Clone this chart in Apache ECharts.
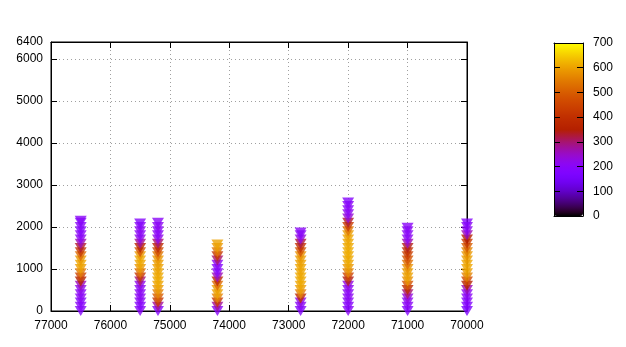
<!DOCTYPE html>
<html>
<head>
<meta charset="utf-8">
<script src="https://cdn.jsdelivr.net/npm/echarts@6/dist/echarts.min.js"></script>
<style>
  html, body { margin: 0; padding: 0; background: #fff; }
  #chart { width: 626px; height: 347px; }
</style>
</head>
<body>
<div id="chart"></div>
<script>
// x position of each column of points
const columnX = [76500, 75500, 75200, 74200, 72800, 72000, 71000, 70000];

// y values of the points in each column
const columnY = [
  [0,100,200,300,400,500,600,700,800,900,1000,1100,1200,1300,1400,1500,1600,1700,1800,1900,2000,2100,2150],
  [0,100,200,300,400,500,600,700,800,900,1000,1100,1200,1300,1400,1500,1600,1700,1800,1900,2000,2080],
  [0,100,200,300,400,500,600,700,800,900,1000,1100,1200,1300,1400,1500,1600,1700,1800,1900,2000,2100],
  [0,100,200,300,400,500,600,700,800,900,1000,1100,1200,1300,1400,1500,1580],
  [0,100,200,300,400,500,600,700,800,900,1000,1100,1200,1300,1400,1500,1600,1700,1800,1870],
  [0,100,200,300,400,500,600,700,800,900,1000,1100,1200,1300,1400,1500,1600,1700,1800,1900,2000,2100,2200,2300,2400,2500,2580],
  [0,100,200,300,400,500,600,700,800,900,1000,1100,1200,1300,1400,1500,1600,1700,1800,1900,1980],
  [0,100,200,300,400,500,600,700,800,900,1000,1100,1200,1300,1400,1500,1600,1700,1800,1900,2000,2080]
];

// colour value of each point (matches columnY)
const columnC = [
  [190,200,190,210,200,220,260,350,450,550,595,605,590,520,420,330,260,210,200,190,200,190,200],
  [200,190,200,210,200,210,220,300,420,540,590,605,610,590,480,360,280,220,200,210,200,190],
  [190,280,420,500,560,590,605,610,610,605,600,595,590,540,460,380,300,220,200,200,210,200],
  [200,280,420,560,600,595,520,380,260,200,190,210,300,420,540,590,600],
  [190,200,230,380,560,595,605,610,610,605,605,600,595,580,480,400,320,230,200,200],
  [200,190,200,210,200,210,230,340,450,560,590,605,610,610,615,610,610,605,595,540,430,330,240,210,200,200,190],
  [190,200,210,230,300,380,480,580,600,595,580,530,480,440,400,340,260,210,200,200,200],
  [170,180,190,200,210,260,360,460,560,595,605,605,595,590,560,500,430,350,260,210,200,190]
];

const xTicks = [70000, 71000, 72000, 73000, 74000, 75000, 76000, 77000];
const yTicks = [0, 1000, 2000, 3000, 4000, 5000, 6000, 6400];
const cbTicks = [0, 100, 200, 300, 400, 500, 600, 700];

let points = [];
columnX.forEach((x, i) => {
  columnY[i].forEach((y, j) => {
    points.push([x, y, columnC[i][j]]);
  });
});

// gnuplot default palette (rgbformulae 7,5,15)
let palette = [];
for (let k = 0; k <= 40; k++) {
  let t = k / 40;
  let r = Math.round(255 * Math.sqrt(t));
  let g = Math.round(255 * t * t * t);
  let b = Math.round(255 * Math.max(0, Math.sin(2 * Math.PI * t)));
  palette.push("rgb(" + r + "," + g + "," + b + ")");
}

const font = { color: "#000", fontFamily: "Liberation Sans", fontSize: 12, formatter: v => String(v) };
const dotted = { show: true, lineStyle: { color: "#a0a0a0", type: [1, 3], width: 1 } };
const blackLine = { show: true, onZero: false, lineStyle: { color: "#000", width: 1 } };
const inTick = { show: true, inside: true, length: 6, lineStyle: { color: "#000" } };

let myChart = echarts.init(document.getElementById("chart"));
let option = {
  backgroundColor: "#fff",
  animation: false,
  grid: [
    { left: 51, right: 159, top: 42, bottom: 36, show: true, borderColor: "#000", borderWidth: 1 },
    { left: 554, top: 43, width: 29, height: 173 }
  ],
  xAxis: [
    {
      type: "value", gridIndex: 0, min: 70000, max: 77000, interval: 1000, inverse: true,
      axisLine: blackLine, axisTick: inTick,
      axisLabel: Object.assign({ margin: 9, showMinLabel: true, showMaxLabel: true }, font),
      splitLine: dotted
    },
    {
      type: "value", gridIndex: 0, position: "top", min: 70000, max: 77000, interval: 1000, inverse: true,
      axisLine: blackLine, axisTick: inTick,
      axisLabel: { show: false }, splitLine: { show: false }
    },
    {
      type: "value", gridIndex: 1, min: 0, max: 1, z: 10,
      axisLine: blackLine, axisTick: { show: false }, axisLabel: { show: false }, splitLine: { show: false }
    },
    {
      type: "value", gridIndex: 1, position: "top", min: 0, max: 1, z: 10,
      axisLine: blackLine, axisTick: { show: false }, axisLabel: { show: false }, splitLine: { show: false }
    }
  ],
  yAxis: [
    {
      type: "value", gridIndex: 0, min: 0, max: 6400, interval: 1000,
      axisLine: blackLine, axisTick: inTick,
      axisLabel: Object.assign({ margin: 8, showMaxLabel: true }, font),
      splitLine: dotted
    },
    {
      type: "value", gridIndex: 0, position: "right", min: 0, max: 6400, interval: 1000,
      axisLine: blackLine, axisTick: inTick,
      axisLabel: { show: false }, splitLine: { show: false }
    },
    {
      type: "value", gridIndex: 1, position: "right", min: 0, max: 700, interval: 100, z: 10,
      axisLine: blackLine, axisTick: inTick,
      axisLabel: Object.assign({ margin: 10 }, font),
      splitLine: { show: false }
    },
    {
      type: "value", gridIndex: 1, position: "left", min: 0, max: 700, interval: 100, z: 10,
      axisLine: blackLine, axisTick: inTick,
      axisLabel: { show: false }, splitLine: { show: false }
    }
  ],
  visualMap: {
    type: "continuous",
    min: 0,
    max: 700,
    dimension: 2,
    seriesIndex: 0,
    orient: "vertical",
    left: 554,
    top: 43,
    padding: 0,
    itemWidth: 29,
    itemHeight: 173,
    calculable: false,
    text: null,
    showLabel: false,
    inRange: { color: palette }
  },
  series: [
    {
      type: "scatter",
      xAxisIndex: 0,
      yAxisIndex: 0,
      symbol: "triangle",
      symbolRotate: 180,
      symbolSize: [12, 10],
      data: points
    }
  ]
};
myChart.setOption(option);
</script>
</body>
</html>
